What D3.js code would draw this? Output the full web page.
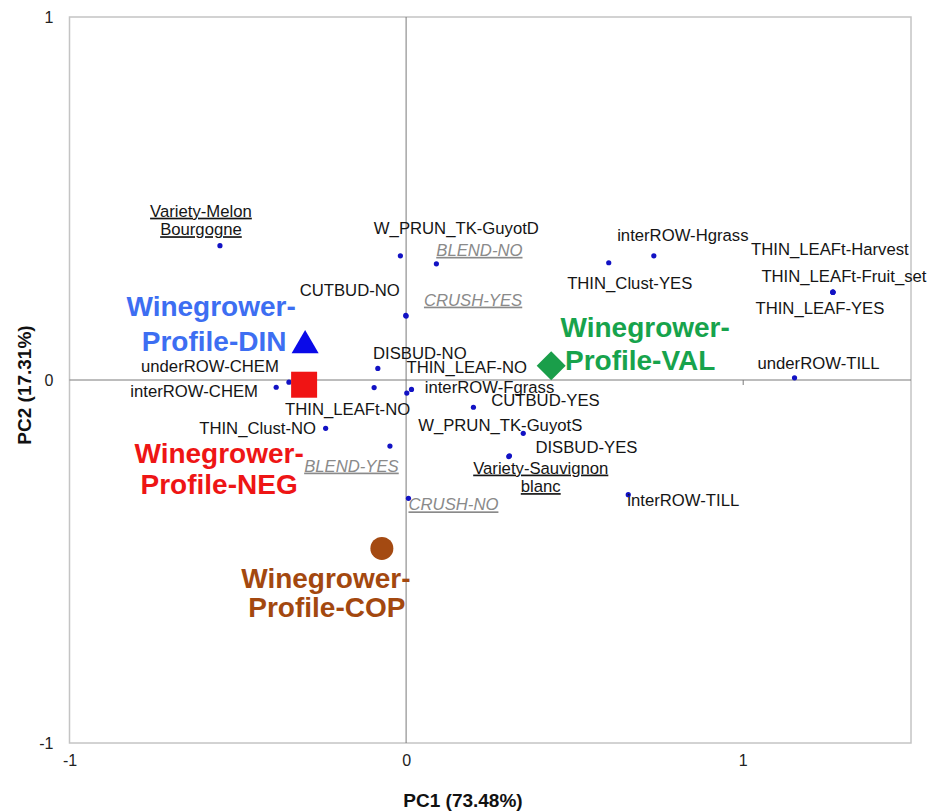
<!DOCTYPE html>
<html>
<head>
<meta charset="utf-8">
<script src="https://cdn.jsdelivr.net/npm/d3@7"></script>
<style>
  body { margin: 0; background: #fff; }
  text { font-family: "Liberation Sans", Arial, sans-serif; }
  .tick text { font-size: 16px; fill: #222; }
</style>
</head>
<body>
<svg width="929" height="812"></svg>
<script>
// modalities (blue dots)
var modNames = ["Variety-Melon\nBourgogne", "W_PRUN_TK-GuyotD", "BLEND-NO", "CUTBUD-NO", "CRUSH-YES",
  "DISBUD-NO", "underROW-CHEM", "interROW-CHEM", "THIN_LEAFt-NO", "THIN_LEAF-NO", "interROW-Fgrass",
  "THIN_Clust-NO", "BLEND-YES", "CRUSH-NO", "CUTBUD-YES", "W_PRUN_TK-GuyotS", "DISBUD-YES",
  "Variety-Sauvignon\nblanc", "interROW-TILL", "THIN_Clust-YES", "interROW-Hgrass",
  "THIN_LEAFt-Harvest", "THIN_LEAFt-Fruit_set", "THIN_LEAF-YES", "underROW-TILL"];
var modPC1 = [-0.553, -0.017, 0.090, -0.001, 0.000, -0.084, -0.348, -0.386, -0.095, 0.002, 0.016,
  -0.239, -0.048, 0.007, 0.200, 0.348, 0.307, 0.305, 0.660, 0.602, 0.736, 1.268, 1.268, 1.268, 1.154];
var modPC2 = [0.370, 0.342, 0.320, 0.178, 0.176, 0.032, -0.006, -0.020, -0.021, -0.036, -0.026,
  -0.133, -0.182, -0.326, -0.075, -0.147, -0.209, -0.211, -0.316, 0.323, 0.342, 0.242, 0.242, 0.242, 0.006];
var modKind = ["variety", "practice", "wine", "practice", "wine", "practice", "practice", "practice",
  "practice", "practice", "practice", "practice", "wine", "wine", "practice", "practice", "practice",
  "variety", "practice", "practice", "practice", "practice", "practice", "practice", "practice"];

// winegrower profiles (big symbols)
var profNames = ["Winegrower-\nProfile-DIN", "Winegrower-\nProfile-NEG", "Winegrower-\nProfile-VAL", "Winegrower-\nProfile-COP"];
var profPC1 = [-0.300, -0.303, 0.431, -0.072];
var profPC2 = [0.095, -0.013, 0.039, -0.464];

var xTicks = [-1, 0, 1];
var yTicks = [-1, 0, 1];
var xTitle = "PC1 (73.48%)";
var yTitle = "PC2 (17.31%)";

// label placement, px offsets from the point (layout only)
var modNudge = [[-19, -29], [56, -21.5], [43, -8], [-56, -19], [67, -10.5], [42, -9], [-79, -10], [-82, 10],
  [-26.5, 27], [60, -20], [78, 4], [-68, 6], [-38.5, 25.5], [45, 12], [72, -1], [-23, -2.5], [77, -2.5],
  [32, 17], [55, 11], [21, 26], [29, -15], [-3, -37], [11, -10], [-13, 22], [24, -9]];
var profNudge = [[[-94, -29.6], [-91, 5.4]], [[-85, 78], [-85, 109]], [[94, -29], [89, 4]], [[-56, 40], [-55, 69]]];
var profShape = [d3.symbolTriangle, d3.symbolSquare, d3.symbolSquare, d3.symbolCircle];
var profSize = [316, 676, 420, 415];
var profRot = [0, 0, 45, 0];
var profFill = ["#0a0ae8", "#f01414", "#1a9e4a", "#a44a12"];
var profText = ["#3d6ef2", "#ee1515", "#17a34c", "#a3480f"];

var svg = d3.select("svg");
var x = d3.scaleLinear().domain([-1, 1.5]).range([69.5, 911]);
var y = d3.scaleLinear().domain([-1, 1]).range([743, 17]);

// frame
svg.append("rect")
  .attr("x", x(-1)).attr("y", y(1))
  .attr("width", x(1.5) - x(-1)).attr("height", y(-1) - y(1))
  .attr("fill", "none").attr("stroke", "#c4c4c4").attr("stroke-width", 1.5);

// zero lines
svg.append("line").attr("x1", x(-1)).attr("x2", x(1.5)).attr("y1", y(0)).attr("y2", y(0))
  .attr("stroke", "#7a7a7a").attr("stroke-width", 1);
svg.append("line").attr("x1", x(0)).attr("x2", x(0)).attr("y1", y(1)).attr("y2", y(-1))
  .attr("stroke", "#7a7a7a").attr("stroke-width", 1);
svg.append("g").attr("transform", "translate(0," + y(0) + ")")
  .call(d3.axisBottom(x).tickValues([1]).tickSize(5).tickFormat(""))
  .call(g => g.select(".domain").remove())
  .selectAll("line").attr("stroke", "#7a7a7a");

// tick labels (plain hyphen for negatives, like the original)
var fmt = d => String(d);
var xa = svg.append("g").attr("transform", "translate(0," + y(-1) + ")")
  .call(d3.axisBottom(x).tickValues(xTicks).tickSize(0).tickPadding(12).tickFormat(fmt));
var ya = svg.append("g").attr("transform", "translate(" + x(-1) + ",0)")
  .call(d3.axisLeft(y).tickValues(yTicks).tickSize(0).tickPadding(16).tickFormat(fmt));
xa.select(".domain").remove();
ya.select(".domain").remove();

// titles
svg.append("text").attr("x", 463).attr("y", 807).attr("text-anchor", "middle")
  .attr("font-size", 19).attr("font-weight", "bold").attr("fill", "#111").text(xTitle);
svg.append("text").attr("transform", "translate(31,385) rotate(-90)").attr("text-anchor", "middle")
  .attr("font-size", 19).attr("font-weight", "bold").attr("fill", "#111").text(yTitle);

// modality dots + labels
var mods = modNames.map(function (n, i) {
  return { name: n, pc1: modPC1[i], pc2: modPC2[i], kind: modKind[i], nudge: modNudge[i] };
});

svg.append("g").selectAll("circle").data(mods).enter().append("circle")
  .attr("cx", d => x(d.pc1)).attr("cy", d => y(d.pc2)).attr("r", 2.6)
  .attr("fill", "#1212c4");

var lab = svg.append("g").selectAll("text").data(mods).enter().append("text")
  .attr("text-anchor", "middle")
  .attr("font-size", 16.7)
  .attr("fill", d => d.kind == "wine" ? "#8a8a8a" : "#151515")
  .attr("font-style", d => d.kind == "wine" ? "italic" : "normal")
  .style("text-decoration", d => d.kind == "practice" ? "none" : "underline");

lab.selectAll("tspan").data(d => d.name.split("\n").map(function (t, k) {
    return { t: t, k: k, d: d };
  }))
  .enter().append("tspan")
  .attr("x", s => x(s.d.pc1) + s.d.nudge[0])
  .attr("y", s => y(s.d.pc2) + s.d.nudge[1] + s.k * 18.5)
  .text(s => s.t);

// profiles
var profs = profNames.map(function (n, i) {
  return { name: n, pc1: profPC1[i], pc2: profPC2[i], i: i };
});

svg.append("g").selectAll("path").data(profs).enter().append("path")
  .attr("transform", d => "translate(" + x(d.pc1) + "," + y(d.pc2) + ") rotate(" + profRot[d.i] + ")")
  .attr("d", d => d3.symbol().type(profShape[d.i]).size(profSize[d.i])())
  .attr("fill", d => profFill[d.i]);

svg.append("g").selectAll("text").data(profs).enter().append("text")
  .attr("text-anchor", "middle")
  .attr("font-size", 28).attr("font-weight", "bold")
  .attr("fill", d => profText[d.i])
  .selectAll("tspan").data(d => d.name.split("\n").map(function (t, k) {
    return { t: t, k: k, d: d };
  }))
  .enter().append("tspan")
  .attr("x", s => x(s.d.pc1) + profNudge[s.d.i][s.k][0])
  .attr("y", s => y(s.d.pc2) + profNudge[s.d.i][s.k][1])
  .text(s => s.t);
</script>
</body>
</html>
